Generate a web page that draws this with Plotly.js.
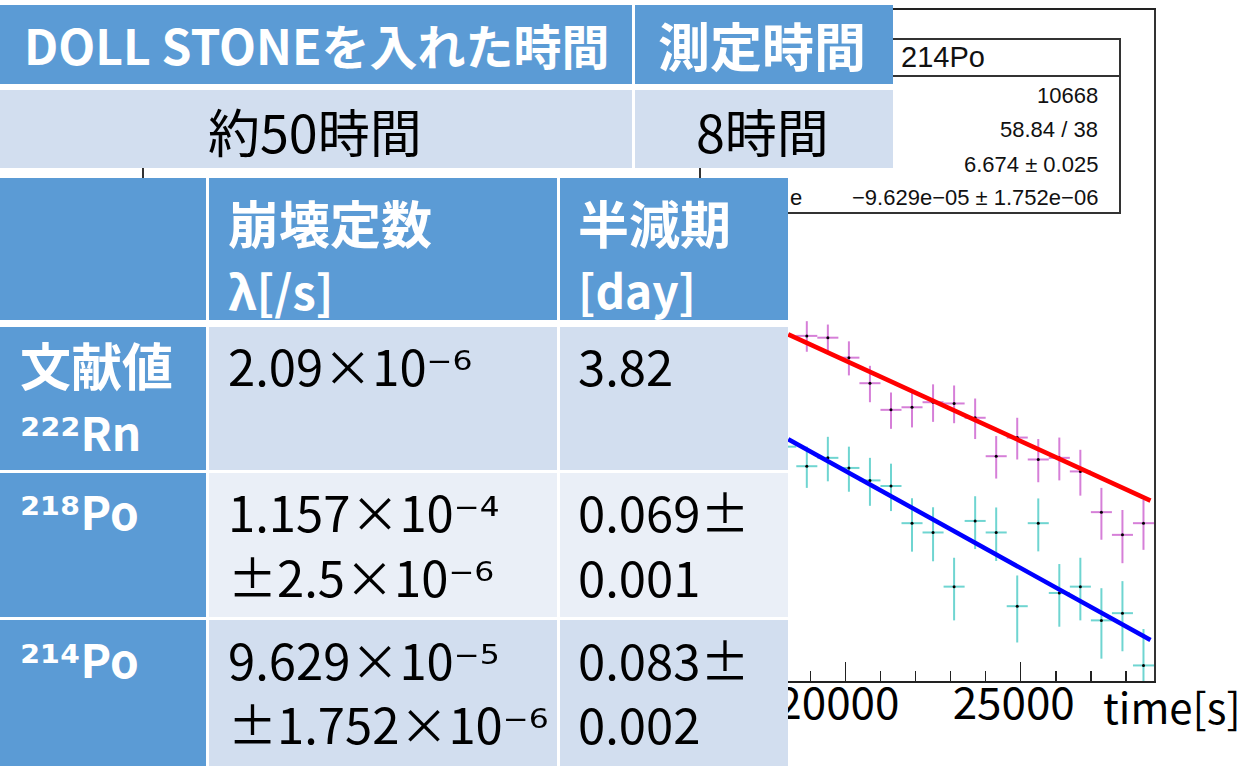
<!DOCTYPE html>
<html><head><meta charset="utf-8">
<script src="https://cdn.plot.ly/plotly-3.0.1.min.js"></script>
<style>html,body{margin:0;padding:0;background:#fff;overflow:hidden}#chart{width:1246px;height:766px}</style>
</head><body><div id="chart"></div>
<script>
// ---------------- data ----------------
const binWidth = 600; // s
const po218Time = [18900,19500,20100,20700,21300,21900,22500,23100,23700,24300,24900,25500,26100,26700,27300,27900,28500];
const po218Counts = [225,223,202,178,156,158,162,161,150,124,136,122,123,115,94,84,89];
const po218Err = [17,15,17,16,14,15,15,15,15,13,14,13,13,13,12,11,11];

const po214Time = [18300,18900,19500,20100,20700,21300,21900,22500,23100,23700,24300,24900,25500,26100,26700,27300,27900,28500];
const po214Counts = [130,118,123,117,110,107,89,85,65,90,85,59,89,63,65,55,57,44];
const po214Err = [12,12,13.5,13,13,12.5,11.7,11.3,10,11.7,11.2,9.7,11.6,9.7,10,9.5,9.8,8.7];

// fitted exponentials (straight on the log axis), visible part
const fit218Time = [18370, 28700];
const fit218Value = [226.7, 99.5];
const fit214Time = [18370, 28700];
const fit214Value = [134.9, 49.9];

const xTickVals = [20000, 25000];
const xTickText = ['20000', '25000'];
const xAxisTitle = 'time[s]';

const statsTitle = '214Po';
const statsRows = ['10668', '58.84 / 38', '6.674 ± 0.025', '\u22129.629e\u221205 ± 1.752e\u221206'];
const statsLabelTail = 'e';

const topHeader = ['DOLL STONEを入れた時間', '測定時間'];
const topValues = ['約50時間', '8時間'];

const colHeader1 = ['崩壊定数', 'λ[/s]'];
const colHeader2 = ['半減期', '[day]'];
const rowHeads = [['文献値', '²²²Rn'], ['²¹⁸Po'], ['²¹⁴Po']];
const lambdaText = [['2.09×10⁻⁶'], ['1.157×10⁻⁴', '±2.5×10⁻⁶'], ['9.629×10⁻⁵', '±1.752×10⁻⁶']];
const halfLifeText = [['3.82'], ['0.069±', '0.001'], ['0.083±', '0.002']];

// ---------------- geometry ----------------
const W = 1246, H = 766;
const M = {l: 144, r: 92, t: 10, b: 85};
const PW = W - M.l - M.r, PH = H - M.t - M.b;
const px = x => (x - M.l) / PW;
const py = y => (H - M.b - y) / PH;

const BLUE = '#5B9BD5', LIGHT1 = '#D2DEEF', LIGHT2 = '#EAEFF7';
const JP = 'Noto Sans CJK JP';

const shapes = [];
function rect(x0, y0, x1, y1, fill, line) {
  shapes.push({type: 'rect', xref: 'paper', yref: 'paper', layer: 'above',
    x0: px(x0), x1: px(x1), y0: py(y1), y1: py(y0),
    fillcolor: fill || 'rgba(0,0,0,0)', opacity: 1,
    line: line || {width: 0}});
}
function hline(x0, x1, y, color, w) {
  shapes.push({type: 'line', xref: 'paper', yref: 'paper', layer: 'above',
    x0: px(x0), x1: px(x1), y0: py(y), y1: py(y), line: {color: color, width: w}});
}

// stats box (its left part is hidden under the tables)
rect(700, 39, 1120, 213, '#ffffff', {color: '#333', width: 2});
hline(700, 1120, 76, '#333', 2);

// top table (white cell borders)
rect(0, 5, 893, 168, '#ffffff');
rect(0, 5, 632, 84, BLUE);
rect(635, 5, 893, 84, BLUE);
rect(0, 90, 632, 168, LIGHT1);
rect(635, 90, 893, 168, LIGHT1);

// second table
rect(0, 178, 788, 766, '#ffffff');
const cols = [[0, 206], [209, 557], [560, 788]];
const rows = [[178, 320], [327, 470], [473, 617], [620, 766]];
const bodyFill = [LIGHT1, LIGHT2, LIGHT1];
cols.forEach(c => rect(c[0], rows[0][0], c[1], rows[0][1], BLUE));
for (let r = 1; r < rows.length; r++) {
  rect(cols[0][0], rows[r][0], cols[0][1], rows[r][1], BLUE);
  rect(cols[1][0], rows[r][0], cols[1][1], rows[r][1], bodyFill[r - 1]);
  rect(cols[2][0], rows[r][0], cols[2][1], rows[r][1], bodyFill[r - 1]);
}

const annotations = [];
function ann(text, x, y, o) {
  o = o || {};
  annotations.push({text: text, xref: 'paper', yref: 'paper', x: px(x), y: py(y),
    xanchor: o.xa || 'left', yanchor: 'middle', showarrow: false,
    font: {family: o.family || JP, size: o.size || 48, color: o.color || '#000'}});
}
const b = t => '<b>' + t + '</b>';
// superscript characters drawn from one font so they match each other
const sup = t => t.replace(/[⁰¹²³⁴⁵⁶⁷⁸⁹⁻]+/g, m => '<span style="font-family:DejaVu Sans">' + m + '</span>');

// top table text
ann(b(topHeader[0]), 316, 44, {xa: 'center', color: '#fff', size: 48});
ann(b(topHeader[1]), 762, 44, {xa: 'center', color: '#fff', size: 52});
ann(topValues[0], 315, 130, {xa: 'center', size: 52});
ann(topValues[1], 762, 130, {xa: 'center', size: 52});

// table 2 header
ann(b(colHeader1[0]), 226, 222, {color: '#fff', size: 51});
ann(b(colHeader1[1]), 226, 289, {color: '#fff', size: 47});
ann(b(colHeader2[0]), 576, 222, {color: '#fff', size: 51});
ann(b(colHeader2[1]), 576, 289, {color: '#fff', size: 46});

// row heads and values
const headY = [[364, 431], [510], [658]];
const headSize = [[51, 46], [46], [46]];
const valueY = [[364], [510, 575], [658, 723]];
rowHeads.forEach((lines, i) => lines.forEach((t, j) => ann(b(sup(t)), 18, headY[i][j], {color: '#fff', size: headSize[i][j]})));
lambdaText.forEach((lines, i) => lines.forEach((t, j) => ann(sup(t), 226, valueY[i][j], {size: 49})));
halfLifeText.forEach((lines, i) => lines.forEach((t, j) => ann(t, 576, valueY[i][j], {size: 49})));

// stats text
const LS = 'Liberation Sans';
ann(statsTitle, 899, 57, {family: LS, size: 29, color: '#111'});
const statsY = [95, 129, 164, 198];
statsRows.forEach((t, i) => ann(t, 1100, statsY[i], {xa: 'right', family: LS, size: 22, color: '#111'}));
ann(statsLabelTail, 788, 198, {family: LS, size: 22, color: '#111'});

// axis title
ann(xAxisTitle, 1243, 705, {xa: 'right', size: 42});

// ---------------- traces ----------------
const traces = [
  {type: 'scatter', mode: 'markers', x: po218Time, y: po218Counts,
   marker: {color: '#000', size: 3},
   error_y: {type: 'data', array: po218Err, color: '#D67FD8', thickness: 2, width: 0},
   error_x: {type: 'constant', value: binWidth / 2, color: '#D67FD8', thickness: 2, width: 0},
   hoverinfo: 'skip', showlegend: false},
  {type: 'scatter', mode: 'markers', x: po214Time, y: po214Counts,
   marker: {color: '#000', size: 3},
   error_y: {type: 'data', array: po214Err, color: '#6FD5D1', thickness: 2, width: 0},
   error_x: {type: 'constant', value: binWidth / 2, color: '#6FD5D1', thickness: 2, width: 0},
   hoverinfo: 'skip', showlegend: false},
  {type: 'scatter', mode: 'lines', x: fit218Time, y: fit218Value,
   line: {color: '#FF0000', width: 4.5}, hoverinfo: 'skip', showlegend: false},
  {type: 'scatter', mode: 'lines', x: fit214Time, y: fit214Value,
   line: {color: '#0000FF', width: 4.5}, hoverinfo: 'skip', showlegend: false}
];

const layout = {
  width: W, height: H, margin: M,
  paper_bgcolor: '#fff', plot_bgcolor: '#fff', showlegend: false,
  xaxis: {range: [0, 28800], showgrid: false, zeroline: false,
    showline: true, mirror: true, linecolor: '#222', linewidth: 2,
    tickmode: 'array', tickvals: xTickVals, ticktext: xTickText,
    ticks: 'inside', ticklen: 19, tickwidth: 1.5, tickcolor: '#222',
    ticklabelstandoff: -17, ticklabelshift: -7,
    minor: {ticks: 'inside', ticklen: 10, dtick: 1000, tick0: 0, tickcolor: '#222', tickwidth: 1.5},
    tickfont: {family: JP, size: 44, color: '#000'}},
  yaxis: {type: 'log', range: [1.610, 3.053], showgrid: false, zeroline: false,
    showline: true, mirror: true, linecolor: '#333', linewidth: 2,
    showticklabels: false, ticks: ''},
  shapes: shapes, annotations: annotations
};

Plotly.newPlot('chart', traces, layout, {displayModeBar: false, staticPlot: true});
</script></body></html>
